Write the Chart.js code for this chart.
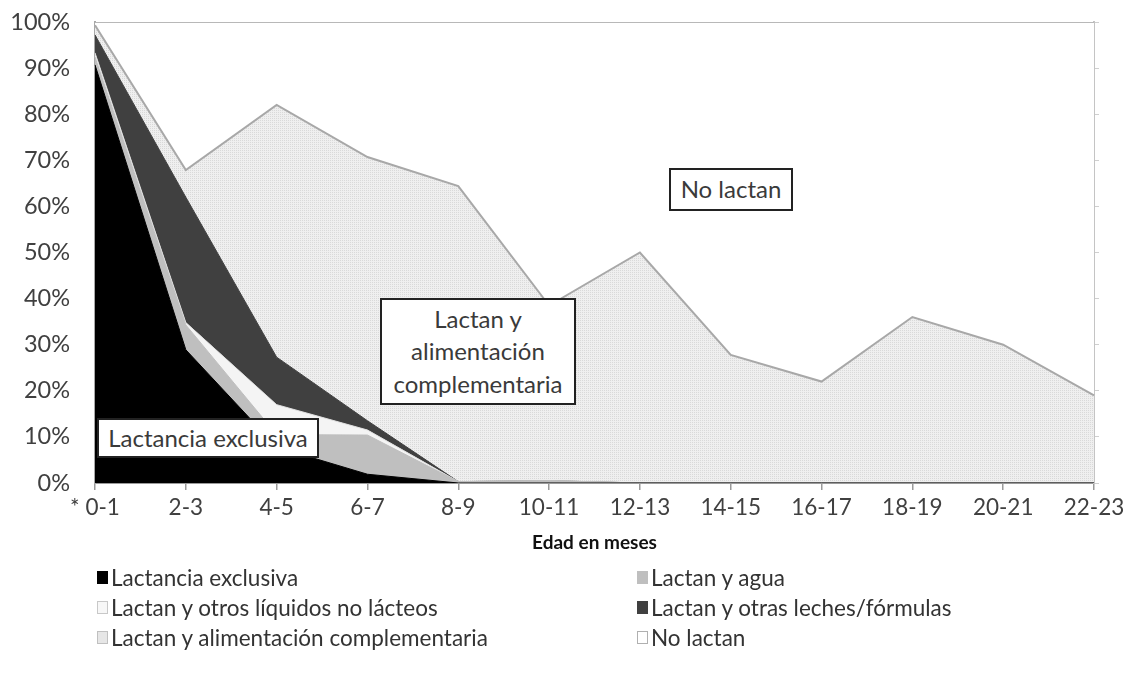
<!DOCTYPE html>
<html>
<head>
<meta charset="utf-8">
<script src="https://cdn.jsdelivr.net/npm/chart.js@4.4.1/dist/chart.umd.min.js"></script>
<style>
  html, body { margin: 0; padding: 0; background: #fff; }
  #wrap { position: relative; width: 1132px; height: 687px; overflow: hidden; font-family: Lato, "Open Sans", sans-serif; }
  #c { position: absolute; left: 0; top: 0; }
  .box { position: absolute; background: #fff; border: 2px solid #222; box-sizing: border-box;
         color: #3a3a3a; font-size: 24px; text-align: center; display: flex; align-items: center; justify-content: center; line-height: 32.5px; }
  .leg { position: absolute; font-size: 22.5px; color: #333; white-space: nowrap; display: flex; align-items: center; height: 26px; }
  .sw { display: inline-block; width: 11px; height: 13px; margin-right: 3px; box-sizing: border-box; border: 1px solid #bbb; }
</style>
</head>
<body>
<div id="wrap">
  <canvas id="c" width="1132" height="687"></canvas>
  <div class="box" style="left:669px; top:168px; width:124px; height:43px;">No lactan</div>
  <div class="box" style="left:380px; top:298px; width:196px; height:107px;">Lactan y<br>alimentación<br>complementaria</div>
  <div class="box" style="left:97px; top:418px; width:222px; height:40px;">Lactancia exclusiva</div>
</div>
<script>
const categories = ['* 0-1','2-3','4-5','6-7','8-9','10-11','12-13','14-15','16-17','18-19','20-21','22-23'];
const exclusiva      = [90.7, 28.9,  7.8,  1.9,  0,    0,    0,    0,    0,  0,  0,  0];
const agua           = [ 1.7,  5.4,  2.7,  8.5,  0.3,  0.5,  0,    0,    0,  0,  0,  0];
const otrosLiquidos  = [ 0.9,  0.5,  6.5,  1.1,  0,    0,    0,    0,    0,  0,  0,  0];
const otrasLeches    = [ 3.9, 27.2, 10.3,  2.0,  0,    0,    0,    0,    0,  0,  0,  0];
const complementaria = [ 2.1,  5.9, 54.7, 57.2, 64.1, 38.0, 50.0, 27.8, 22.0, 36.0, 30.0, 19.0];
const noLactan       = [ 0.7, 32.1, 18.0, 29.3, 35.6, 61.5, 50.0, 72.2, 78.0, 64.0, 70.0, 81.0];
const yTicks = [0,10,20,30,40,50,60,70,80,90,100];

const seriesNames = ['Lactancia exclusiva','Lactan y agua','Lactan y otros líquidos no lácteos',
  'Lactan y otras leches/fórmulas','Lactan y alimentación complementaria','No lactan'];

// dotted pattern for complementaria
function makePattern() {
  const p = document.createElement('canvas');
  p.width = 4; p.height = 4;
  const g = p.getContext('2d');
  g.fillStyle = '#efefef'; g.fillRect(0,0,4,4);
  g.fillStyle = '#d9d9d9';
  g.fillRect(0,0,1,1); g.fillRect(2,2,1,1); g.fillRect(2,0,1,1); g.fillRect(0,2,1,1);
  return document.getElementById('c').getContext('2d').createPattern(p, 'repeat');
}
const pattern = makePattern();

const styles = [
  { bg: '#000000', border: '#000000', bw: 1 },
  { bg: '#bfbfbf', border: '#bfbfbf', bw: 1 },
  { bg: '#f4f4f4', border: '#dcdcdc', bw: 1 },
  { bg: '#404040', border: '#404040', bw: 1 },
  { bg: pattern,   border: '#a8a8a8', bw: 2 },
  { bg: '#ffffff', border: '#b8b8b8', bw: 2 }
];
const values = [exclusiva, agua, otrosLiquidos, otrasLeches, complementaria, noLactan];

const datasets = values.map((v, i) => ({
  label: seriesNames[i],
  data: v,
  backgroundColor: styles[i].bg,
  borderColor: styles[i].border,
  borderWidth: styles[i].bw,
  fill: i === 0 ? 'origin' : '-1',
  pointRadius: 0,
  tension: 0,
  yAxisID: 'y'
}));

new Chart(document.getElementById('c'), {
  type: 'line',
  data: { labels: categories, datasets },
  options: {
    responsive: false,
    animation: false,
    layout: { padding: { top: 22, right: 32, left: 0, bottom: 129 } },
    plugins: { legend: { display: false }, tooltip: { enabled: false } },
    scales: {
      x: {
        type: 'category',
        offset: false,
        grid: { display: true, drawOnChartArea: false, drawTicks: true, tickLength: 7, color: '#9a9a9a', lineWidth: 1.5 },
        border: { display: true, color: '#9a9a9a', width: 2 },
        ticks: { autoSkip: false, maxRotation: 0, minRotation: 0, padding: 4, color: '#404040', font: { family: 'Lato', size: 22.5 } },
        title: { display: true, text: 'Edad en meses', color: '#111', font: { family: 'Lato', size: 19, weight: 'bold' }, padding: { top: 4, bottom: 4 } },
        afterFit: s => { s.height = 75; }
      },
      y: {
        stacked: true,
        min: 0, max: 100,
        afterBuildTicks: s => { s.ticks = yTicks.map(v => ({ value: v })); },
        grid: { display: true, drawOnChartArea: false, drawTicks: true, tickLength: 22, color: 'rgba(0,0,0,0)' },
        border: { display: true, color: '#a8a8a8', width: 2 },
        ticks: { padding: 3, color: '#404040', font: { family: 'Lato', size: 23.5 }, callback: v => v + '%' },
        afterFit: s => { s.width = 95; }
      },
      y2: {
        position: 'right',
        min: 0, max: 100,
        afterBuildTicks: s => { s.ticks = yTicks.map(v => ({ value: v })); },
        grid: { display: true, drawOnChartArea: false, drawTicks: true, tickLength: 5, color: '#cfcfcf' },
        border: { display: true, color: '#c4c4c4', width: 2 },
        ticks: { display: false },
        afterFit: s => { s.width = 6; }
      }
    }
  }
});

// HTML legend built from series names
const legPos = [[97,564],[637,564],[97,594],[637,594],[97,624],[637,624]];
const legSw = [
  { bg: '#000', bd: '#000' }, { bg: '#bfbfbf', bd: '#bfbfbf' }, { bg: '#f7f7f7', bd: '#c8c8c8' },
  { bg: '#404040', bd: '#404040' }, { bg: '#e6e6e6', bd: '#c0c0c0' }, { bg: '#fff', bd: '#b0b0b0' }
];
const wrap = document.getElementById('wrap');
seriesNames.forEach((name, i) => {
  const d = document.createElement('div');
  d.className = 'leg';
  d.style.left = legPos[i][0] + 'px';
  d.style.top = legPos[i][1] + 'px';
  const sw = document.createElement('span');
  sw.className = 'sw';
  sw.style.background = legSw[i].bg;
  sw.style.borderColor = legSw[i].bd;
  d.appendChild(sw);
  d.appendChild(document.createTextNode(name));
  wrap.appendChild(d);
});
</script>
</body>
</html>
